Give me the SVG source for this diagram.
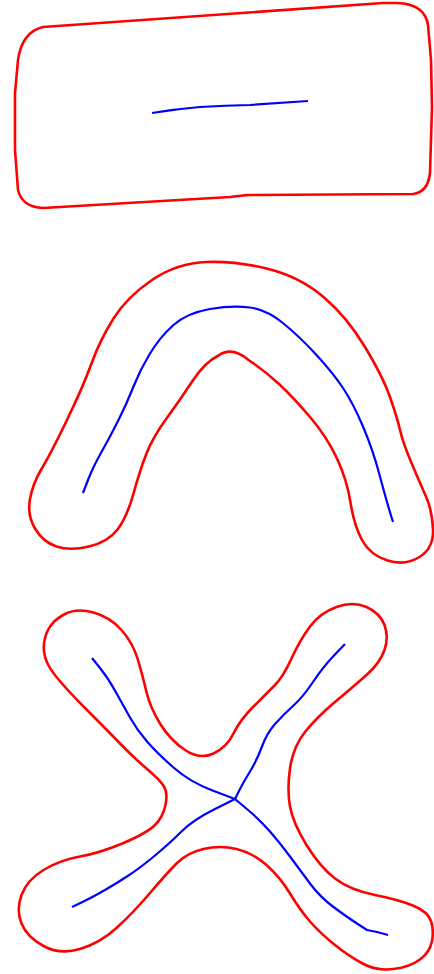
<svg xmlns="http://www.w3.org/2000/svg" width="434" height="974" viewBox="0 0 434 974">
<style>
.outline{fill:none;stroke:#ff0000;stroke-width:2.6;stroke-linejoin:round;stroke-linecap:round}
.skel{fill:none;stroke:#0000ff;stroke-width:2.2;stroke-linejoin:round;stroke-linecap:butt}
</style>
<rect width="434" height="974" fill="#ffffff"/>
<g id="shape-rect">
<path class="outline" d="M 43,27 L 383,3 L 397,3 Q 425,4 428,25 L 431,60 L 432,107 L 430,173 Q 428,192 413,194 L 247,195 L 230,197 L 43,208 Q 22,207 18,190 L 15,150 L 15,93 L 18,60 Q 22,32 43,27 Z"/>
<path class="skel" d="M 152,113 Q 176,109 200,107 Q 225,105.5 250,105 L 308,101"/>
</g>
<g id="shape-arch">
<path class="outline" d="M 56.5,546.5 Q 43,542 35,528.5 Q 27,515 30,499 Q 33,483 41.5,469 Q 50,455 66.5,421 Q 83,387 91.5,363.5 Q 100,340 113.5,318.5 Q 127,297 152,280 Q 177,263 207,262 Q 237,261 268.5,269 Q 300,277 323.5,297 Q 347,317 365,347 Q 383,377 390,397 Q 397,417 400,430 Q 403,443 411.5,463 Q 420,483 426,496.5 Q 432,510 433,529 Q 434,548 419.5,557 Q 405,566 387.5,560.5 Q 370,555 362,540 Q 354,525 350.5,502.5 Q 347,480 337,458.5 Q 327,437 310,417 Q 293,397 279,384 Q 265,371 248.5,360 Q 232,346 218.5,355.5 Q 205,362 192.5,381 Q 180,400 166.5,418.5 Q 153,437 146.5,453.5 Q 140,470 133.5,493.5 Q 127,517 117.5,529.5 Q 108,542 89,546.5 Q 70,551 56.5,546.5 Z"/>
<path class="skel" d="M 83,493 L 88,480 Q 93,467 101.5,452 Q 110,437 118.5,420 Q 127,403 133.5,386.5 Q 140,370 150,353.5 Q 160,337 173.5,325 Q 187,313 210,309 Q 233,305 250,307.5 Q 267,310 283.5,323.5 Q 300,337 316.5,355 Q 333,373 343,388 Q 353,403 363,426.5 Q 373,450 380,476.5 Q 387,503 393,522"/>
</g>
<g id="shape-cross">
<path class="outline" d="M 44,651.5 Q 43,640 48,630 Q 53,620 65,614 Q 77,608 93.5,612.5 Q 110,617 121.5,630 Q 133,643 138,660 Q 143,677 146.5,692 Q 150,707 160,723.5 Q 170,740 185,750 Q 200,760 213.5,753.5 Q 227,747 233.5,733.5 Q 240,720 253.5,706.5 Q 267,693 275,685 Q 283,677 291.5,658.5 Q 300,640 310,626.5 Q 320,613 336.5,607 Q 353,601 366.5,607 Q 380,613 384.5,625 Q 389,637 384.5,650 Q 380,663 366.5,675 Q 353,687 335,702 Q 317,717 305,732 Q 293,747 290,768.5 Q 287,790 290,806.5 Q 293,823 306.5,845 Q 320,867 335,878.5 Q 350,890 375,895 Q 400,900 414,906 Q 428,912 431,921 Q 434,930 432,941 Q 430,952 420,959.5 Q 410,967 393.5,969 Q 377,971 363.5,964 Q 350,957 335,945 Q 320,933 310,921.5 Q 300,910 290,893.5 Q 280,877 266.5,865 Q 253,853 236.5,849 Q 220,845 203.5,849 Q 187,853 177,863 Q 167,873 150,893 Q 133,913 116.5,928 Q 100,943 80,949 Q 60,955 43.5,946 Q 27,937 21.5,923.5 Q 16,910 21.5,895 Q 27,880 43.5,870 Q 60,860 80,856.5 Q 100,853 123.5,843 Q 147,833 155,825 Q 163,817 165.5,805 Q 168,793 164,786.5 Q 160,780 146.5,768.5 Q 133,757 120,743.5 Q 107,730 87,710 Q 67,690 56,676.5 Q 45,663 44,651.5 Z"/>
<path class="skel" d="M 92,658 L 100,668 Q 108,678 115.5,691.5 Q 123,705 130,717.5 Q 137,730 147,741.5 Q 157,753 173.5,767.5 Q 190,782 212.5,790.5 L 235,799"/>
<path class="skel" d="M 345,644 L 334,655.5 Q 323,667 313,682 Q 303,697 293,706 Q 283,715 275,724 Q 267,733 262,746.5 Q 257,760 250,771.5 Q 243,783 239,791 L 235,799"/>
<path class="skel" d="M 72,907 L 82.5,902 Q 93,897 105,890 Q 117,883 128.5,875.5 Q 140,868 155,855.5 Q 170,843 181.5,831.5 Q 193,820 214,809.5 L 235,799"/>
<path class="skel" d="M 235,799 L 247.5,809.5 Q 260,820 270,831.5 Q 280,843 290,856.5 Q 300,870 310,883.5 Q 320,897 333.5,907 Q 347,917 357,923.5 L 367,930 L 377,932 L 388,935"/>
</g>
</svg>
